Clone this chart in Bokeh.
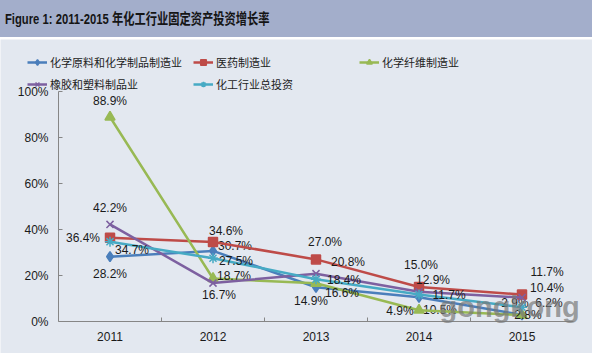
from bokeh.plotting import figure
from bokeh.models import (ColumnDataSource, Range1d, FixedTicker, PrintfTickFormatter,
                          Legend, LegendItem, Label, Div)
from bokeh.layouts import column
from bokeh.core.properties import value
from bokeh.embed import file_html
from bokeh.resources import INLINE

# ---------------- data ----------------
years = ["2011", "2012", "2013", "2014", "2015"]
series_names = ["化学原料和化学制品制造业", "医药制造业", "化学纤维制造业",
                "橡胶和塑料制品业", "化工行业总投资"]
chem_raw = [28.2, 30.7, 14.9, 10.5, 2.9]
pharma = [36.4, 34.6, 27.0, 15.0, 11.7]
fiber = [88.9, 18.7, 16.6, 4.9, 2.8]
rubber = [42.2, 16.7, 20.8, 12.9, 10.4]
total = [34.7, 27.5, 18.4, 11.7, 6.2]
y_ticks = [0, 20, 40, 60, 80, 100]

title_text = "Figure 1: 2011-2015 年化工行业固定资产投资增长率"
watermark = "gongkong"

# ---------------- styles / geometry ----------------
BG = "#e3e8f0"
BAND = "#a3aecb"
AXIS = "#868686"
colors = ["#4a7ebb", "#be4b48", "#98b954", "#7d60a0", "#46aac4"]
markers = ["diamond", "square", "triangle", "x", "asterisk"]
msizes = [10, 9, 10, 10, 10]
# label offsets in screen pixels (dx, dy), per series per year
label_offsets = [
    [(0, 17), (22, -5), (-5, 14), (21, 13), (-7, -12)],
    [(-27, 0), (13, -11), (9, -17), (2, -22), (25, -23)],
    [(0, -16), (21, -2), (26, 10), (-19, 1), (6, 0)],
    [(0, -16), (6, 12), (32, -12), (14, -12), (25, -10)],
    [(22, 8), (23, 3), (28, 1), (30, 0), (27, -4)],
]

W, H = 592, 314            # figure size (below the title band)
CAT_PX = 103.0             # pixels per category
FIRST_X_PX = 109.5         # pixel x of first category
PCT_PX = 2.3               # pixels per percent
ZERO_FROM_BOTTOM = 32.0    # pixel distance of 0% from figure bottom

all_values = [chem_raw, pharma, fiber, rubber, total]
xs = [i + 1 for i in range(len(years))]

x0 = 1 - FIRST_X_PX / CAT_PX
x1 = 1 + (W - FIRST_X_PX) / CAT_PX
y0 = -ZERO_FROM_BOTTOM / PCT_PX
y1 = (H - ZERO_FROM_BOTTOM) / PCT_PX

p = figure(width=W, height=H, output_backend="svg", toolbar_location=None,
           x_range=Range1d(x0, x1), y_range=Range1d(y0, y1),
           min_border=0, background_fill_color=BG, border_fill_color=BG,
           outline_line_color=None, margin=0)
p.grid.visible = False

# axes (fixed inside the frame)
p.yaxis.ticker = FixedTicker(ticks=y_ticks)
p.yaxis.formatter = PrintfTickFormatter(format="%d%%")
p.yaxis.fixed_location = 0.5
p.yaxis.bounds = (y_ticks[0], y_ticks[-1])
p.xaxis.ticker = FixedTicker(ticks=xs, minor_ticks=[x + 0.5 for x in xs[:-1]])
p.xaxis.major_label_overrides = {x: y for x, y in zip(xs, years)}
p.xaxis.fixed_location = 0
p.xaxis.bounds = (0.5, len(years) + 0.5)
for ax in (p.xaxis, p.yaxis):
    ax.axis_line_color = AXIS
    ax.axis_line_width = 1
    ax.major_tick_line_color = AXIS
    ax.minor_tick_line_color = AXIS
    ax.major_label_text_font = "Liberation Sans"
    ax.major_label_text_font_size = "12px"
    ax.major_label_text_color = "#1a1a1a"
p.yaxis.major_tick_in = 4
p.yaxis.major_tick_out = 0
p.yaxis.minor_tick_line_color = None
p.yaxis.major_label_standoff = 10
p.xaxis.major_tick_line_color = None
p.xaxis.minor_tick_in = 4
p.xaxis.minor_tick_out = 0
p.xaxis.major_label_standoff = 4

items = []
for name, vals, c, m, ms, offs in zip(series_names, all_values, colors, markers,
                                      msizes, label_offsets):
    src = ColumnDataSource(dict(
        x=xs, y=vals,
        txt=[f"{v:.1f}%" for v in vals],
        dx=[o[0] for o in offs], dy=[o[1] for o in offs]))
    ln = p.line("x", "y", source=src, line_color=c, line_width=2.5)
    sc = p.scatter("x", "y", source=src, marker=m, size=ms, fill_color=c,
                   line_color=c, line_width=1.5)
    p.text("x", "y", text="txt", source=src, x_offset="dx", y_offset="dy",
           text_align="center", text_baseline="middle",
           text_font=value("Liberation Sans"), text_font_size="12px",
           text_color="#1a1a1a")
    items.append(LegendItem(label=name, renderers=[ln, sc]))

legend = Legend(items=items, location=(27, 261), orientation="horizontal", ncols=3,
                glyph_width=20, glyph_height=14, label_height=14, label_width=137,
                label_standoff=3, spacing=6, padding=0, margin=0,
                border_line_color=None, background_fill_alpha=0,
                label_text_font="Noto Sans CJK SC", label_text_font_size="11px",
                label_text_color="#222222")
p.add_layout(legend, "center")

# watermark
p.add_layout(Label(x=439, y=47, x_units="screen", y_units="screen", text=watermark,
                   text_font="Liberation Sans", text_font_style="bold",
                   text_font_size="29px", text_color="#787878", text_alpha=0.7,
                   text_baseline="alphabetic"))

title_html = (
    '<div style="padding-top:8px;padding-left:5px;white-space:nowrap;">'
    '<span style="display:inline-block;transform:scaleX(0.75);transform-origin:0 50%;'
    'font-family:\'Liberation Sans\',\'Noto Sans CJK SC\',sans-serif;font-weight:bold;'
    f'font-size:15px;color:#151515;">{title_text}</span></div>'
)
band = Div(text=title_html, width=592, height=39, margin=0,
           styles={"background-color": BAND, "border-bottom": "2px solid white",
                   "box-sizing": "border-box", "overflow": "hidden"})

layout = column(band, p, spacing=0, margin=0)
open("out.html", "w").write(file_html(layout, INLINE))
